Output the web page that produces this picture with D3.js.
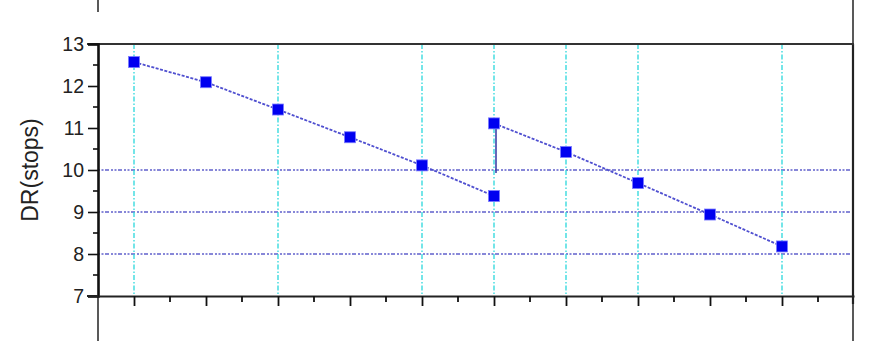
<!DOCTYPE html>
<html>
<head>
<meta charset="utf-8">
<script src="https://cdn.jsdelivr.net/npm/d3@7"></script>
<style>
  html, body { margin: 0; padding: 0; background: #fff; }
  svg { display: block; }
</style>
</head>
<body>
<svg id="chart" width="883" height="341"></svg>
<script>
// DR (stops) readings, two runs split at x = 6
const xRun1 = [1, 2, 3, 4, 5, 6];
const drRun1 = [12.57, 12.09, 11.44, 10.78, 10.11, 9.38];
const xRun2 = [6, 7, 8, 9, 10];
const drRun2 = [11.11, 10.43, 9.69, 8.94, 8.18];
const jumpSpan = [9.93, 10.98]; // solid vertical segment at x = 6
const yTicks = [7, 8, 9, 10, 11, 12, 13];
const hGrid = [8, 9, 10];
const vGrid = [1, 3, 5, 6, 7, 8, 10];

const svg = d3.select("#chart");
const plotL = 98, plotR = 854, plotT = 44, plotB = 296;

const x = d3.scaleLinear().domain([0.5, 11]).range([plotL, plotR]);
const y = d3.scaleLinear().domain([7, 13]).range([plotB, plotT]);

// grid lines
svg.append("g")
  .selectAll("line")
  .data(hGrid)
  .join("line")
  .attr("x1", plotL).attr("x2", plotR)
  .attr("y1", (d) => y(d)).attr("y2", (d) => y(d))
  .attr("stroke", "#6060cc")
  .attr("stroke-width", 1.4)
  .attr("stroke-dasharray", "2,1.5,2,1.5,4,2");

svg.append("g")
  .selectAll("line")
  .data(vGrid)
  .join("line")
  .attr("x1", (d) => x(d)).attr("x2", (d) => x(d))
  .attr("y1", plotT).attr("y2", plotB)
  .attr("stroke", "#2ad8dc")
  .attr("stroke-width", 1.3)
  .attr("stroke-dasharray", "5,2,1.5,2");

// frame lines outside the plot
const frame = svg.append("g").attr("stroke", "#222");
frame.append("line").attr("x1", plotL).attr("x2", plotL).attr("y1", 0).attr("y2", 12).attr("stroke-width", 1.5);
frame.append("line").attr("x1", plotL).attr("x2", plotL).attr("y1", plotB).attr("y2", 341).attr("stroke-width", 1.5);
frame.append("line").attr("x1", plotR - 1).attr("x2", plotR - 1).attr("y1", 0).attr("y2", 341).attr("stroke-width", 1.5);
frame.append("line").attr("x1", plotR - 1).attr("x2", plotR - 1).attr("y1", plotT).attr("y2", plotB + 8).attr("stroke-width", 2.2);
frame.append("line").attr("x1", 87).attr("x2", plotR).attr("y1", plotT).attr("y2", plotT).attr("stroke-width", 2).attr("stroke", "#333");

// y axis
const yAxis = d3.axisLeft(y).tickValues(yTicks).tickSize(10).tickPadding(4).tickFormat(d3.format("d"));
const gy = svg.append("g").attr("transform", `translate(${plotL},0)`).call(yAxis);
gy.select(".domain").attr("stroke", "#111").attr("stroke-width", 2.6);
gy.selectAll(".tick line").attr("stroke", "#111").attr("stroke-width", 1.6);
gy.selectAll(".tick text")
  .attr("font-family", "Liberation Sans, Arial, sans-serif")
  .attr("font-size", 19.5).attr("fill", "#222");

const yMinor = d3.range(7.5, 13, 1);
svg.append("g")
  .selectAll("line")
  .data(yMinor)
  .join("line")
  .attr("x1", plotL - 5).attr("x2", plotL)
  .attr("y1", (d) => y(d)).attr("y2", (d) => y(d))
  .attr("stroke", "#111").attr("stroke-width", 1.6);

// x axis (no labels)
const xMajor = d3.range(1, 11);
const xMinor = d3.range(1.5, 11, 1);
const xAxis = d3.axisBottom(x).tickValues(xMajor).tickSize(10).tickFormat("").tickSizeOuter(0);
const gx = svg.append("g").attr("transform", `translate(0,${plotB})`).call(xAxis);
gx.select(".domain").attr("stroke", "#222").attr("stroke-width", 2);
gx.selectAll(".tick line").attr("stroke", "#111").attr("stroke-width", 1.8);
svg.append("line").attr("x1", 87).attr("x2", plotL).attr("y1", plotB).attr("y2", plotB)
  .attr("stroke", "#222").attr("stroke-width", 2);
svg.append("g")
  .selectAll("line")
  .data(xMinor)
  .join("line")
  .attr("x1", (d) => x(d)).attr("x2", (d) => x(d))
  .attr("y1", plotB).attr("y2", plotB + 6)
  .attr("stroke", "#111").attr("stroke-width", 1.8);

// y label
svg.append("text")
  .attr("transform", `translate(38,${(plotT + plotB) / 2}) rotate(-90)`)
  .attr("text-anchor", "middle")
  .attr("font-family", "Liberation Sans, Arial, sans-serif")
  .attr("font-size", 23)
  .attr("fill", "#222")
  .text("DR(stops)");

// series
const line = d3.line().x((d) => x(d[0])).y((d) => y(d[1]));
const runs = [d3.zip(xRun1, drRun1), d3.zip(xRun2, drRun2)];

svg.append("g")
  .selectAll("path")
  .data(runs)
  .join("path")
  .attr("d", line)
  .attr("fill", "none")
  .attr("stroke", "#5050d0")
  .attr("stroke-width", 1.8)
  .attr("stroke-dasharray", "3,1.5");

svg.append("line")
  .attr("x1", x(6) + 2).attr("x2", x(6) + 2)
  .attr("y1", y(jumpSpan[0])).attr("y2", y(jumpSpan[1]))
  .attr("stroke", "#4040a8").attr("stroke-width", 1.6);

svg.append("g")
  .selectAll("rect")
  .data(runs.flat())
  .join("rect")
  .attr("x", (d) => x(d[0]) - 5.5)
  .attr("y", (d) => y(d[1]) - 5.5)
  .attr("width", 11).attr("height", 11)
  .attr("fill", "#0000f0")
  .attr("stroke", "#7a7aff")
  .attr("stroke-width", 0.8);
</script>
</body>
</html>
